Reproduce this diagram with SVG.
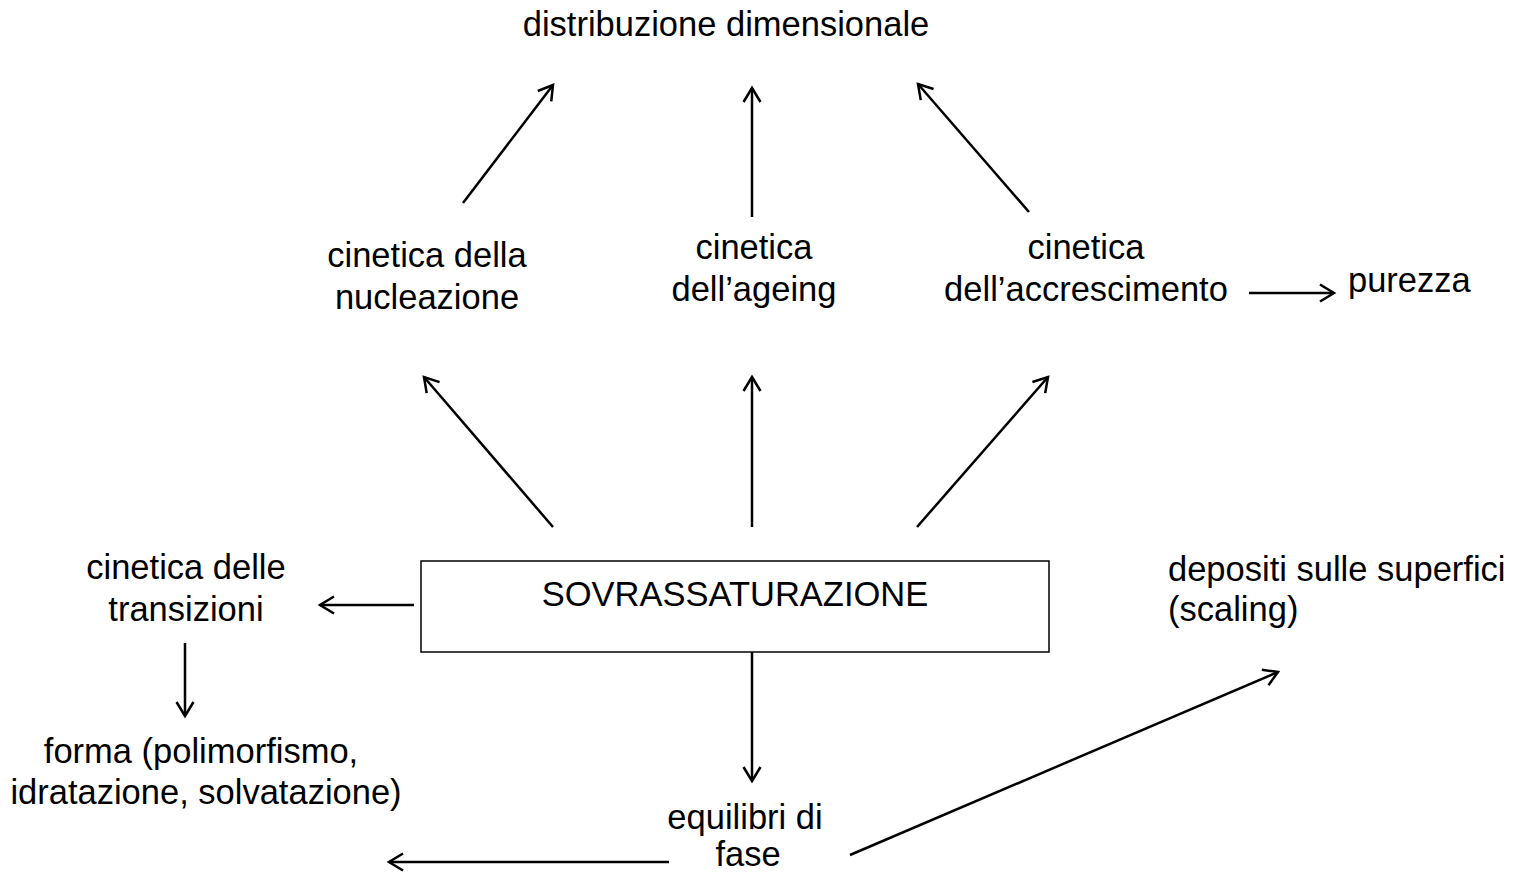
<svg xmlns="http://www.w3.org/2000/svg" width="1521" height="874" viewBox="0 0 1521 874">
<defs>
<style>
text{font-family:"Liberation Sans",Arial,sans-serif;font-size:34.5px;fill:#000}
.c{text-anchor:middle}
.a{stroke:#000;stroke-width:2.5;fill:none;marker-end:url(#h)}
</style>
<marker id="h" markerUnits="userSpaceOnUse" markerWidth="30" markerHeight="30" viewBox="0 0 30 30" refX="22" refY="15" orient="auto" overflow="visible">
<path d="M8,6.5 L22,15 L8,23.5" fill="none" stroke="#000" stroke-width="2.5"/>
</marker>
</defs>
<rect width="1521" height="874" fill="#fff"/>
<g id="connectors">
<line class="a" x1="463" y1="203" x2="553" y2="85"/>
<line class="a" x1="752" y1="217" x2="752" y2="88"/>
<line class="a" x1="1029" y1="212" x2="918" y2="84"/>
<line class="a" x1="553" y1="527" x2="424" y2="377"/>
<line class="a" x1="752" y1="527" x2="752" y2="377"/>
<line class="a" x1="917" y1="527" x2="1048" y2="377"/>
<line class="a" x1="1249" y1="293" x2="1334" y2="293"/>
<line class="a" x1="414" y1="605" x2="320" y2="605"/>
<line class="a" x1="185" y1="643" x2="185" y2="716"/>
<line class="a" x1="752" y1="652" x2="752" y2="781"/>
<line class="a" x1="669" y1="862" x2="389" y2="862"/>
<line class="a" x1="850" y1="855" x2="1278" y2="672"/>
</g>
<g id="distribuzione"><text class="c" x="726" y="36">distribuzione dimensionale</text></g>
<g id="nucleazione"><text class="c" x="427" y="267">cinetica della</text><text class="c" x="427" y="309">nucleazione</text></g>
<g id="ageing"><text class="c" x="754" y="259">cinetica</text><text class="c" x="754" y="301">dell’ageing</text></g>
<g id="accrescimento"><text class="c" x="1086" y="259">cinetica</text><text class="c" x="1086" y="301">dell’accrescimento</text></g>
<g id="purezza"><text x="1348" y="292">purezza</text></g>
<g id="sovrassaturazione"><rect x="421" y="561" width="628" height="91" fill="none" stroke="#000" stroke-width="1.5"/><text class="c" x="735" y="606">SOVRASSATURAZIONE</text></g>
<g id="transizioni"><text class="c" x="186" y="579">cinetica delle</text><text class="c" x="186" y="621">transizioni</text></g>
<g id="forma"><text class="c" x="201" y="763">forma (polimorfismo,</text><text class="c" x="206" y="804">idratazione, solvatazione)</text></g>
<g id="equilibri"><text class="c" x="745" y="829">equilibri di</text><text class="c" x="748" y="866">fase</text></g>
<g id="depositi"><text x="1168" y="581">depositi sulle superfici</text><text x="1168" y="621">(scaling)</text></g>
</svg>
